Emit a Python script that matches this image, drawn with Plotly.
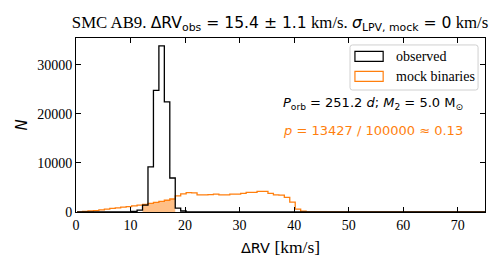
import plotly.graph_objects as go

# bin edges (width 1 km/s, offset 0.2)
bin_start = 0.2
bin_width = 1.0
n_bins = 75

# observed counts for bins starting at 10.2 ... 19.2
obs_first_bin = 10
obs_counts = [100, 400, 1400, 9200, 24800, 33900, 22450, 6940, 800, 200]

# mock binaries counts, bins starting at 0.2 ...
mock_counts = [0, 100, 200, 300, 450, 600, 750, 850, 1000, 1100,
               1250, 1400, 1550, 1750, 1950, 2150, 2400, 2650, 3300, 3700,
               3950, 3900, 3500, 3500, 3550, 3650, 3500, 3500, 3650, 3650,
               3800, 4000, 4000, 4200, 4200, 3800, 3500, 3450, 3000, 2000,
               600, 150]

# bins of the highlighted (p-value) region
fill_bins = (12, 18)

x_ticks = [0, 10, 20, 30, 40, 50, 60, 70]
y_ticks = [0, 10000, 20000, 30000]

edges = [bin_start + i * bin_width for i in range(n_bins + 1)]

def full(counts, first):
    c = [0] * n_bins
    for i, v in enumerate(counts):
        c[first + i] = v
    return c

obs = full(obs_counts, obs_first_bin)
mock = full(mock_counts, 0)

def step(e, c):
    x = [e[0]] + list(e)
    y = [0] + list(c) + [0]
    return x, y

fig = go.Figure()

fx, fy = step(edges[fill_bins[0]:fill_bins[1] + 1], mock[fill_bins[0]:fill_bins[1]])
fig.add_trace(go.Scatter(x=fx, y=fy, mode="lines", line=dict(shape="hv", width=0),
                         fill="tozeroy", fillcolor="rgba(255,127,14,0.5)",
                         showlegend=False, hoverinfo="skip"))
mx, my = step(edges, mock)
fig.add_trace(go.Scatter(x=mx, y=my, mode="lines", line=dict(shape="hv", color="#ff7f0e", width=1.3),
                         showlegend=False))
ox, oy = step(edges, obs)
fig.add_trace(go.Scatter(x=ox, y=oy, mode="lines", line=dict(shape="hv", color="black", width=1.3),
                         showlegend=False))

SERIF = "Liberation Serif"
SANS = "DejaVu Sans"

def sans(t, size):
    return f"<span style=\"font-family:DejaVu Sans;font-size:{size}px\">{t}</span>"

title = ("SMC AB9. " + sans("ΔRV<sub>obs</sub> = 15.4 ± 1.1", 15.6) + " km/s. "
         + sans("<i>σ</i><sub>LPV, mock</sub> = 0", 15.6) + " km/s")

axis_common = dict(showline=True, linecolor="black", linewidth=1.1, mirror="ticks",
                   ticks="inside", ticklen=5, tickcolor="black", tickwidth=1, showgrid=False,
                   zeroline=False, automargin=False,
                   tickfont=dict(family=SERIF, size=14, color="black"))

# the page body adds an 8px offset, so the figure is 8px smaller
fig.update_layout(
    width=492, height=262, autosize=False,
    font=dict(family=SERIF, size=12, color="black"),
    margin=dict(l=68, r=15, t=30, b=58, autoexpand=False),
    paper_bgcolor="white", plot_bgcolor="white",
    title=dict(text=title, x=0.553, xanchor="center", xref="container", y=0.947, yanchor="middle",
               font=dict(family=SERIF, size=16.8, color="black")),
    xaxis=dict(range=[0, 75], tickvals=x_ticks, tickformat="d",
               title=dict(text=sans("ΔRV", 14.5) + " [km/s]",
                          font=dict(family=SERIF, size=17.5, color="black"), standoff=8),
               **axis_common),
    yaxis=dict(range=[0, 35500], tickvals=y_ticks, tickformat="d",
               title=dict(text="<i>N</i>", font=dict(family=SANS, size=15, color="black"), standoff=5),
               **axis_common),
    showlegend=False,
)

# legend box (rounded)
def rounded(x0, x1, y0, y1, rx, ry):
    return (f"M {x0+rx},{y0} L {x1-rx},{y0} Q {x1},{y0} {x1},{y0+ry} L {x1},{y1-ry} "
            f"Q {x1},{y1} {x1-rx},{y1} L {x0+rx},{y1} Q {x0},{y1} {x0},{y1-ry} "
            f"L {x0},{y0+ry} Q {x0},{y0} {x0+rx},{y0} Z")

fig.add_shape(type="path", xref="paper", yref="paper",
              path=rounded(0.670, 0.983, 0.701, 0.960, 0.006, 0.014),
              line=dict(color="#d0d0d0", width=1), fillcolor="rgba(255,255,255,0.8)", layer="above")
leg = [("observed", "black", 0.8945), ("mock binaries", "#ff7f0e", 0.7795)]
for name, col, yy in leg:
    fig.add_shape(type="rect", xref="paper", yref="paper", x0=0.682, x1=0.751,
                  y0=yy - 0.0285, y1=yy + 0.0285,
                  line=dict(color=col, width=1.2), fillcolor="rgba(0,0,0,0)", layer="above")
    fig.add_annotation(x=0.778, y=yy, xref="paper", yref="paper", text=name, showarrow=False,
                       xanchor="left", yanchor="middle", font=dict(family=SERIF, size=14, color="black"))

fig.add_annotation(x=0.502, y=0.621, xref="paper", yref="paper", xanchor="left", yanchor="middle",
                   showarrow=False,
                   text="<i>P</i><sub>orb</sub> = 251.2 <i>d</i>; <i>M</i><sub>2</sub> = 5.0 M<sub>⊙</sub>",
                   font=dict(family=SANS, size=13, color="black"))
fig.add_annotation(x=0.502, y=0.471, xref="paper", yref="paper", xanchor="left", yanchor="middle",
                   showarrow=False,
                   text="<i>p</i> = 13427 / 100000 ≈ 0.13",
                   font=dict(family=SANS, size=13, color="#ff7f0e"))

fig.write_html("out.html")
